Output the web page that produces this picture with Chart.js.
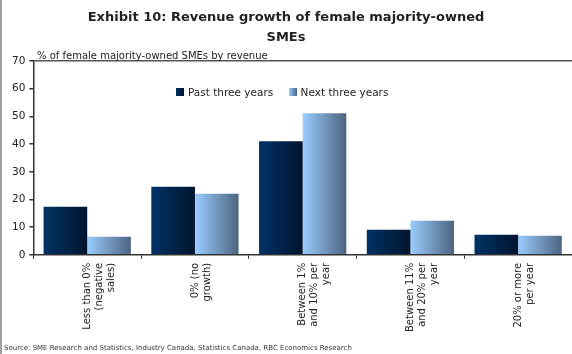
<!DOCTYPE html>
<html>
<head>
<meta charset="utf-8">
<script src="https://cdn.jsdelivr.net/npm/chart.js@4"></script>
<style>
  body { margin: 0; background: #fff; }
  #wrap { position: relative; width: 572px; height: 354px; overflow: hidden; }
  #wrap:before { content: ""; position: absolute; left: 0; top: 0; bottom: 0; border-left: 2px solid #a0a0a0; }
  #title { position: absolute; left: 0; width: 572px; top: 7px; text-align: center;
    font: bold 13px "DejaVu Sans", sans-serif; line-height: 20px; color: #222; }
  #unit { position: absolute; left: 37px; top: 50px; font: 10px "DejaVu Sans", sans-serif; color: #222; }
  #legend { position: absolute; left: 176px; top: 86px; font: 10.5px "DejaVu Sans", sans-serif; color: #222; }
  #legend span { margin-right: 12px; }
  #legend i { display: inline-block; width: 8px; height: 8px; margin-right: 4px; }
  #source { position: absolute; left: 4px; top: 344px; font: 7px "DejaVu Sans", sans-serif; color: #333; }
</style>
</head>
<body>
<div id="wrap">
  <canvas id="chart" width="572" height="354"></canvas>
  <div id="title">Exhibit 10: Revenue growth of female majority-owned<br>SMEs</div>
  <div id="unit">% of female majority-owned SMEs by revenue</div>
  <div id="legend">
    <span><i style="background:linear-gradient(90deg,#003366,#00142e)"></i>Past three years</span>
    <span><i style="background:linear-gradient(90deg,#99ccff,#4d6480)"></i>Next three years</span>
  </div>
  <div id="source">Source: SME Research and Statistics, Industry Canada, Statistics Canada, RBC Economics Research</div>
</div>
<script>
// categories (multi-line labels)
const categories = [
  ["Less than 0%", "(negative", "sales)"],
  ["0% (no", "growth)"],
  ["Between 1%", "and 10% per", "year"],
  ["Between 11%", "and 20% per", "year"],
  ["20% or more", "per year"],
];
const pastThreeYears = [17.4, 24.6, 41.0, 9.1, 7.3];
const nextThreeYears = [6.5, 22.1, 51.1, 12.3, 6.9];
const seriesNames = ["Past three years", "Next three years"];

// left -> right gradient stops per series
const gradStops = [
  ["#003366", "#00142e"],
  ["#99ccff", "#4d6480"],
];

// paint each bar with a horizontal gradient
const barGradients = {
  id: "barGradients",
  beforeDatasetsDraw(chart) {
    const ctx = chart.ctx;
    chart.data.datasets.forEach((ds, di) => {
      const meta = chart.getDatasetMeta(di);
      meta.data.forEach((bar) => {
        const half = bar.width / 2;
        const g = ctx.createLinearGradient(bar.x - half, 0, bar.x + half, 0);
        g.addColorStop(0, gradStops[di][0]);
        g.addColorStop(1, gradStops[di][1]);
        bar.options.backgroundColor = g;
      });
    });
  },
};

new Chart(document.getElementById("chart"), {
  type: "bar",
  data: {
    labels: categories,
    datasets: [
      // scriptable colour so every bar gets its own options object
      { label: seriesNames[0], data: pastThreeYears, backgroundColor: (c) => gradStops[0][0] },
      { label: seriesNames[1], data: nextThreeYears, backgroundColor: (c) => gradStops[1][0] },
    ],
  },
  options: {
    responsive: false,
    animation: false,
    layout: { padding: { top: 61, left: 8, right: 0, bottom: 18 } },
    datasets: { bar: { categoryPercentage: 0.81, barPercentage: 1.0 } },
    plugins: {
      legend: { display: false },
      tooltip: { enabled: false },
    },
    scales: {
      x: {
        border: { color: "#333", width: 1.5 },
        grid: { offset: true, drawOnChartArea: false, tickLength: 4, tickColor: "#333" },
        ticks: {
          color: "#222",
          font: { family: "DejaVu Sans", size: 10 },
          minRotation: 90,
          maxRotation: 90,
          autoSkip: false,
          padding: 4,
        },
      },
      y: {
        min: 0,
        max: 70,
        border: { color: "#333", width: 1.5 },
        grid: {
          color: (c) => (c.tick && c.tick.value === 70 ? "#555" : "rgba(0,0,0,0)"),
          lineWidth: 1.5,
          tickLength: 4,
          tickColor: "#333",
        },
        ticks: {
          stepSize: 10,
          color: "#222",
          font: { family: "DejaVu Sans", size: 10.5 },
          padding: 4,
        },
      },
    },
  },
  plugins: [barGradients],
});
</script>
</body>
</html>
